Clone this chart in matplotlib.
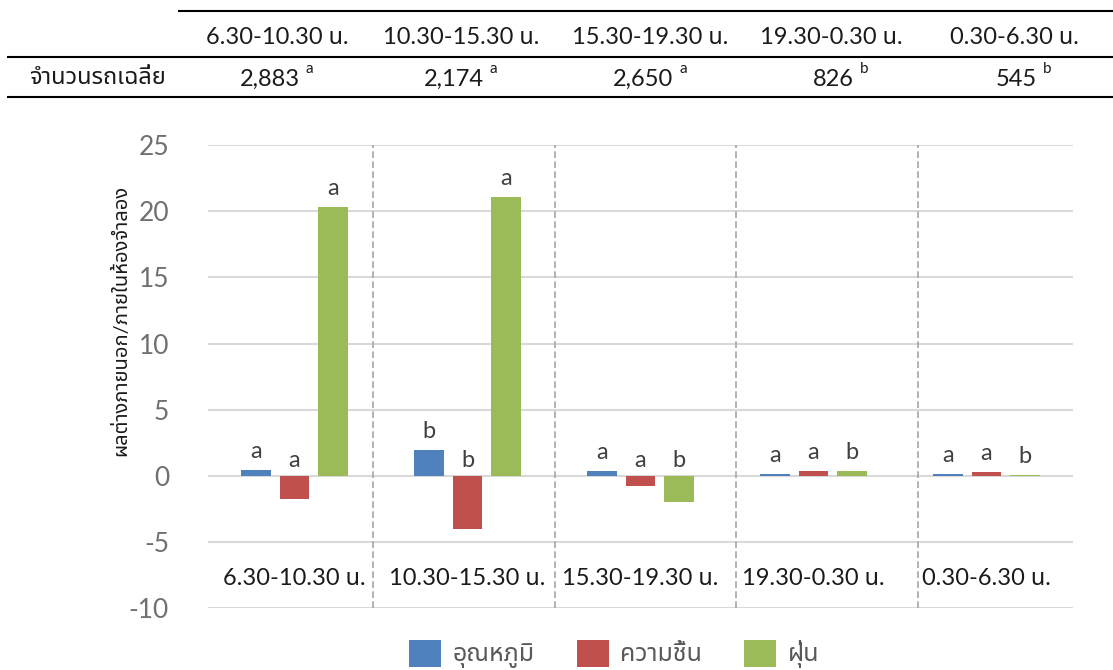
import numpy as np
import matplotlib
matplotlib.use("Agg")
import matplotlib.pyplot as plt
from matplotlib import font_manager
from matplotlib.ft2font import FT2Font
from matplotlib.lines import Line2D
from matplotlib.patches import Patch

# ---- data ----
periods = ["6.30-10.30 น.", "10.30-15.30 น.", "15.30-19.30 น.", "19.30-0.30 น.", "0.30-6.30 น."]
car_counts = ["2,883", "2,174", "2,650", "826", "545"]
car_letters = ["a", "a", "a", "b", "b"]
row_label = "จำนวนรถเฉลี่ย"

series_names = ["อุณหภูมิ", "ความชื้น", "ฝุ่น"]
temperature = [0.47, 1.94, 0.38, 0.13, 0.13]
humidity = [-1.75, -4.0, -0.73, 0.38, 0.30]
dust = [20.3, 21.1, -1.94, 0.38, 0.10]
temperature_sig = ["a", "b", "a", "a", "a"]
humidity_sig = ["a", "b", "a", "a", "a"]
dust_sig = ["a", "a", "b", "b", "b"]
y_label = "ผลต่างภายนอก/ภายในห้องจำลอง"
y_ticks = [-10, -5, 0, 5, 10, 15, 20, 25]


def find_thai_font():
    preferred = ["Noto Sans Thai", "Noto Sans Thai Looped", "Noto Serif Thai",
                 "Sarabun", "Loma", "Garuda", "Kinnari", "Norasi", "Tlwg Typo",
                 "Waree", "Umpush", "Laksaman", "Leelawadee UI", "Tahoma"]
    names = {f.name for f in font_manager.fontManager.ttflist}
    for p in preferred:
        if p in names:
            return p
    for f in font_manager.fontManager.ttflist:
        try:
            cmap = FT2Font(f.fname).get_charmap()
        except Exception:
            continue
        if 0x0E08 in cmap and 0x0E19 in cmap and 0x0E33 in cmap:
            return f.name
    return "DejaVu Sans"


THAI = find_thai_font()
FAM = ["Lato", THAI, "DejaVu Sans"]
plt.rcParams["font.family"] = FAM

W, H = 1113, 670
fig = plt.figure(figsize=(W / 100, H / 100), dpi=100)


def fx(px):
    return px / W


def fy(py):
    return 1 - py / H


# ---- table above the chart ----
line_kw = dict(transform=fig.transFigure, color="black", lw=1.5, solid_capstyle="butt")
fig.add_artist(Line2D([fx(178), fx(1113)], [fy(11), fy(11)], **line_kw))
fig.add_artist(Line2D([fx(7), fx(1113)], [fy(57), fy(57)], **line_kw))
fig.add_artist(Line2D([fx(7), fx(1113)], [fy(97), fy(97)], **line_kw))

col_centers = [277, 461, 650, 831, 1014]
for cx, p in zip(col_centers, periods):
    fig.text(fx(cx), fy(37), p, ha="center", va="center", fontsize=17, color="#1a1a1a")
fig.text(fx(97), fy(78), row_label, ha="center", va="center", fontsize=17, color="#1a1a1a")
for cx, n, s in zip(col_centers, car_counts, car_letters):
    right = cx + 23
    fig.text(fx(right), fy(79), n, ha="right", va="center", fontsize=17, color="#1a1a1a")
    fig.text(fx(right + 6), fy(69), s, ha="left", va="center", fontsize=11, color="#1a1a1a")

# ---- bar chart ----
ax = fig.add_axes([fx(208), fy(608.3), fx(1073) - fx(208), fy(145) - fy(608.3)])
colors = ["#4F81BD", "#C0504D", "#9BBB59"]
series = [temperature, humidity, dust]
sigs = [temperature_sig, humidity_sig, dust_sig]
x = np.arange(len(periods))
offsets = [-0.222, 0.0, 0.222]
bar_w = 0.173

for vals, sig, off, c in zip(series, sigs, offsets, colors):
    ax.bar(x + off, vals, width=bar_w, color=c, zorder=3)
    for xi, v, s in zip(x, vals, sig):
        ly = max(v, 0) + (1.4 if v > 0 else 1.2)
        ax.text(xi + off, ly, s, ha="center", va="center", fontsize=17,
                color="#404040", zorder=4)

ax.set_xlim(-0.5, len(periods) - 0.5)
ax.set_ylim(-10, 25)
ax.set_yticks(y_ticks)
ax.set_yticklabels([str(t) for t in y_ticks])
ax.set_xticks([])
ax.tick_params(axis="y", length=0, pad=28, labelsize=19, labelcolor="#707070")
ax.grid(axis="y", color="#D9D9D9", lw=1.5, zorder=0)
for sp in ax.spines.values():
    sp.set_visible(False)

# dashed separators between the time periods
for sx in [0.454, 1.506, 2.552, 3.604]:
    ax.vlines(sx, -10, 25, colors="#A6A6A6", lw=1.2, linestyles=(0, (4, 2)), zorder=2)

# period names inside the plot area
for xi, p in zip(x, periods):
    ax.text(xi, -7.75, p, ha="center", va="center", fontsize=17, color="#1a1a1a", zorder=4)

fig.text(fx(120), fy(320), y_label, rotation=90, ha="center", va="center",
         fontsize=14.5, color="#1a1a1a")

handles = [Patch(facecolor=c, edgecolor="none") for c in colors]
fig.legend(handles, series_names, loc="center", bbox_to_anchor=(fx(614), fy(654)),
           ncol=3, frameon=False, fontsize=18, labelcolor="#595959",
           handlelength=1.28, handleheight=1.28, handletextpad=0.45, columnspacing=1.7)

fig.savefig("out.png", dpi=100)
